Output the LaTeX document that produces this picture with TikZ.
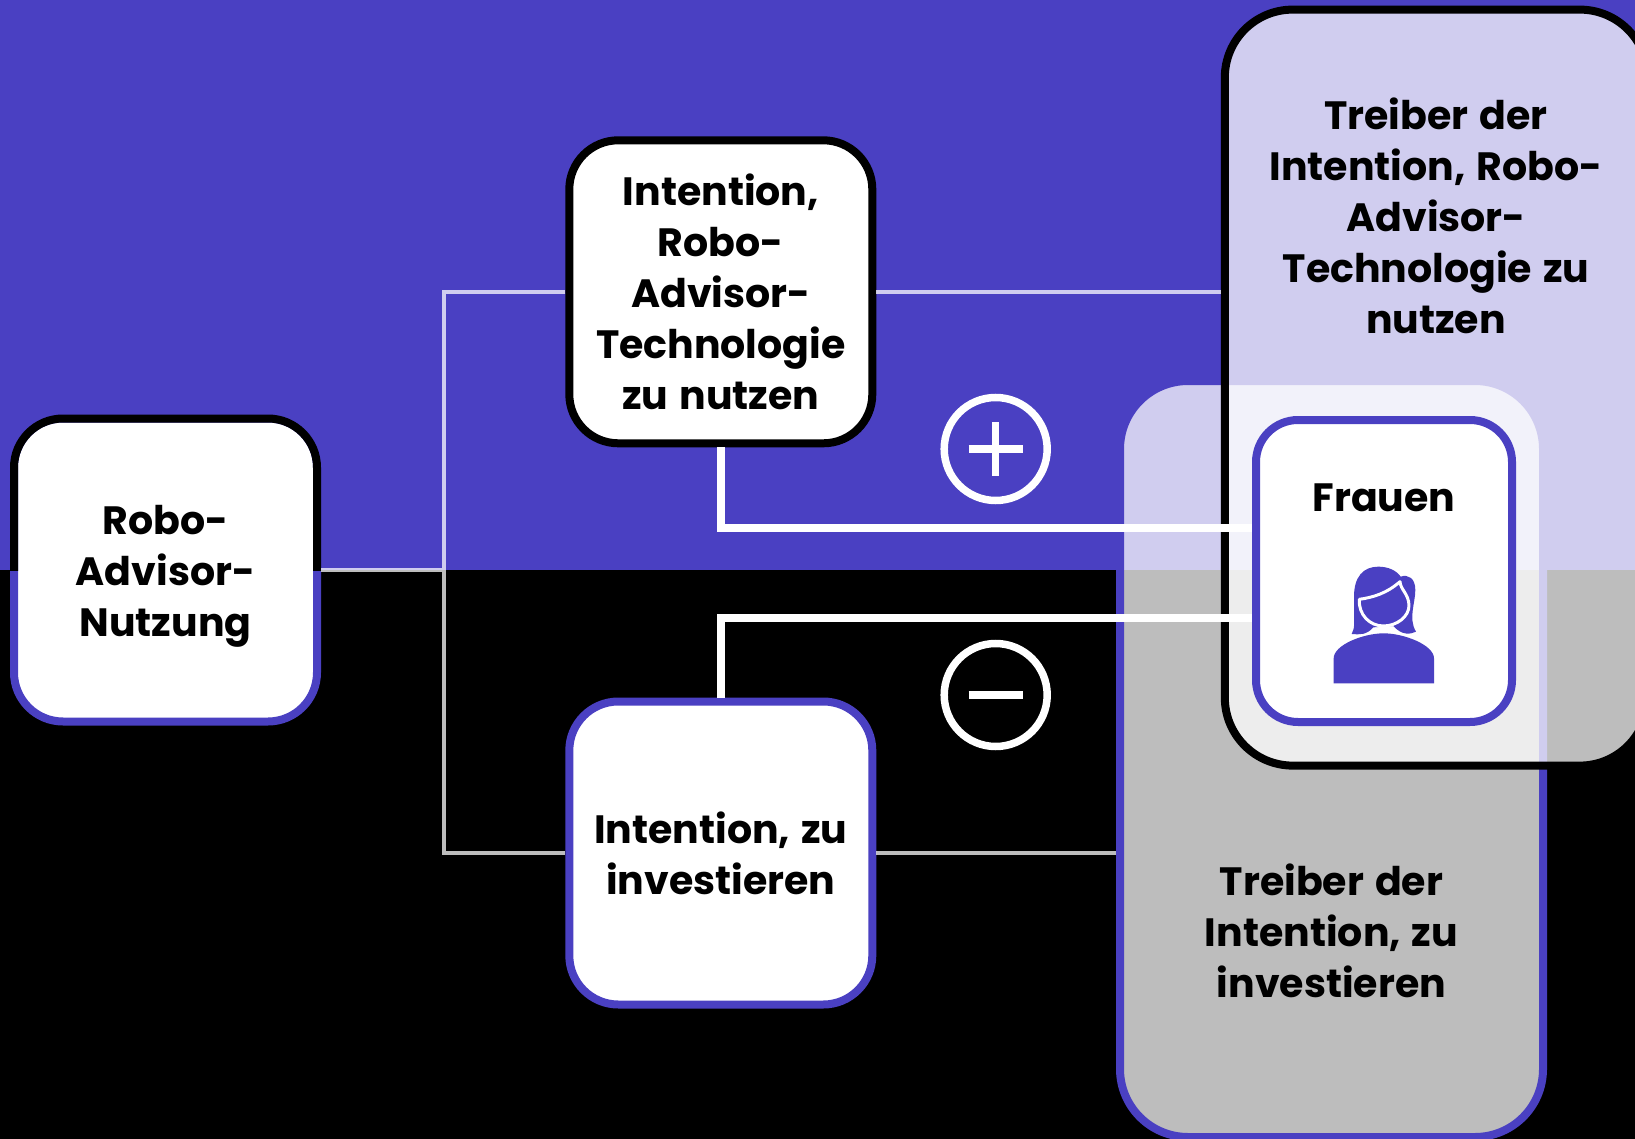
\documentclass[tikz,border=0pt]{standalone}
\usepackage{fontspec}
\setmainfont{Poppins}[WordSpace=1.3]
\definecolor{indigo}{HTML}{4A40C2}
\tikzset{
    basebox/.style={rectangle,line width=8pt,fill=white,inner sep=0pt,rounded corners=49pt,minimum width=303pt,minimum height=303pt,align=center,text=black,font=\fontsize{39.5}{51}\selectfont\bfseries},
    driverbox/.style={rectangle,line width=8pt,fill=white,fill opacity=0.74,inner sep=0pt,rounded corners=68pt},
    boxlabel/.style={align=center,text=black,inner sep=0pt,font=\fontsize{39.5}{51}\selectfont\bfseries},
    thinline/.style={white,draw opacity=0.74,line width=4pt},
    wideline/.style={white,line width=8pt},
    signcircle/.style={circle,draw=white,line width=7.5pt,minimum size=103pt,inner sep=0pt},
    signline/.style={white,line width=7.5pt}
}
\begin{document}
\begin{tikzpicture}[x=1pt,y=-1pt]
    \useasboundingbox (0,0) rectangle (1635,1139);
    \fill[indigo] (0,0) rectangle (1635,570);
    \fill[black] (0,570) rectangle (1635,1139);
    \node[driverbox,draw=indigo,minimum width=423pt,minimum height=756pt] (driverInv) at (1331.5,759) {};
    \node[driverbox,draw=black,minimum width=423pt,minimum height=756pt] (driverUse) at (1436.3,387.6) {};
    \node[boxlabel] (driverUseText) at (1436,216) {Treiber der\\Intention, Robo-\\Advisor-\\Technologie zu\\nutzen};
    \node[boxlabel] (driverInvText) at (1331.5,931) {Treiber der\\Intention, zu\\investieren};
    \node[basebox,draw=indigo] (usage) at (165.5,570) {};
    \begin{scope}
        \clip (0,0) rectangle (1635,570);
        \node[basebox,draw=black,fill=none] (usageTop) at (165.5,570) {};
    \end{scope}
    \node[boxlabel] (usageText) at (165.5,576) {Robo-\\Advisor-\\Nutzung};
    \node[basebox,draw=black] (intentUse) at (720.8,291.8) {Intention,\\Robo-\\Advisor-\\Technologie\\zu nutzen};
    \node[basebox,draw=indigo] (intentInv) at (720.8,853) {Intention, zu\\investieren};
    \node[basebox,draw=indigo,minimum width=256pt,minimum height=302pt,rounded corners=42pt] (frauen) at (1384,571) {};
    \node[boxlabel] (frauenText) at (1384,498) {Frauen};
    \coordinate (junction) at (443.7,570);
    \coordinate (frauenUp) at (frauen.west |- 0,528);
    \coordinate (frauenDown) at (frauen.west |- 0,618);
    \draw[thinline] (intentUse.west) -| (junction) |- (intentInv.west) (junction) -- (usage.east);
    \draw[thinline] (intentUse.east) -- (intentUse.east -| driverUse.west);
    \draw[thinline] (intentInv.east) -- (intentInv.east -| driverInv.west);
    \draw[wideline] (intentUse.south) |- (frauenUp);
    \draw[wideline] (intentInv.north) |- (frauenDown);
    \node[signcircle] (plus) at (995.7,449) {};
    \draw[signline] (968.7,449) -- (1022.7,449);
    \draw[signline] (995.7,422) -- (995.7,476);
    \node[signcircle] (minus) at (995.7,695) {};
    \draw[signline] (968.7,695) -- (1022.7,695);
    \begin{scope}[shift={(1280,540)},x=0.3333pt,y=-0.3333pt]
        \fill[indigo] (215,282) .. controls (226,262) and (222,250) .. (222,170) .. controls (222,110) and (250,80) .. (295,80) .. controls (325,80) and (350,92) .. (362,110) .. controls (385,102) and (406,115) .. (406,150) .. controls (406,190) and (384,235) .. (408,275) .. controls (390,284) and (365,286) .. (340,258) -- (280,262) .. controls (260,285) and (240,284) .. (215,282) -- cycle;
        \draw[indigo,fill=indigo,draw=white,line width=3pt,line join=round] (238,178) .. controls (280,172) and (320,160) .. (360,125) .. controls (362,150) and (385,160) .. (387,195) .. controls (388,230) and (350,258) .. (310,258) .. controls (270,258) and (235,225) .. (238,178) -- cycle;
        \fill[indigo] (161,430) -- (161,355) .. controls (161,315) and (250,280) .. (311,280) .. controls (372,280) and (462,315) .. (462,355) -- (462,430) -- cycle;
    \end{scope}
\end{tikzpicture}
\end{document}
